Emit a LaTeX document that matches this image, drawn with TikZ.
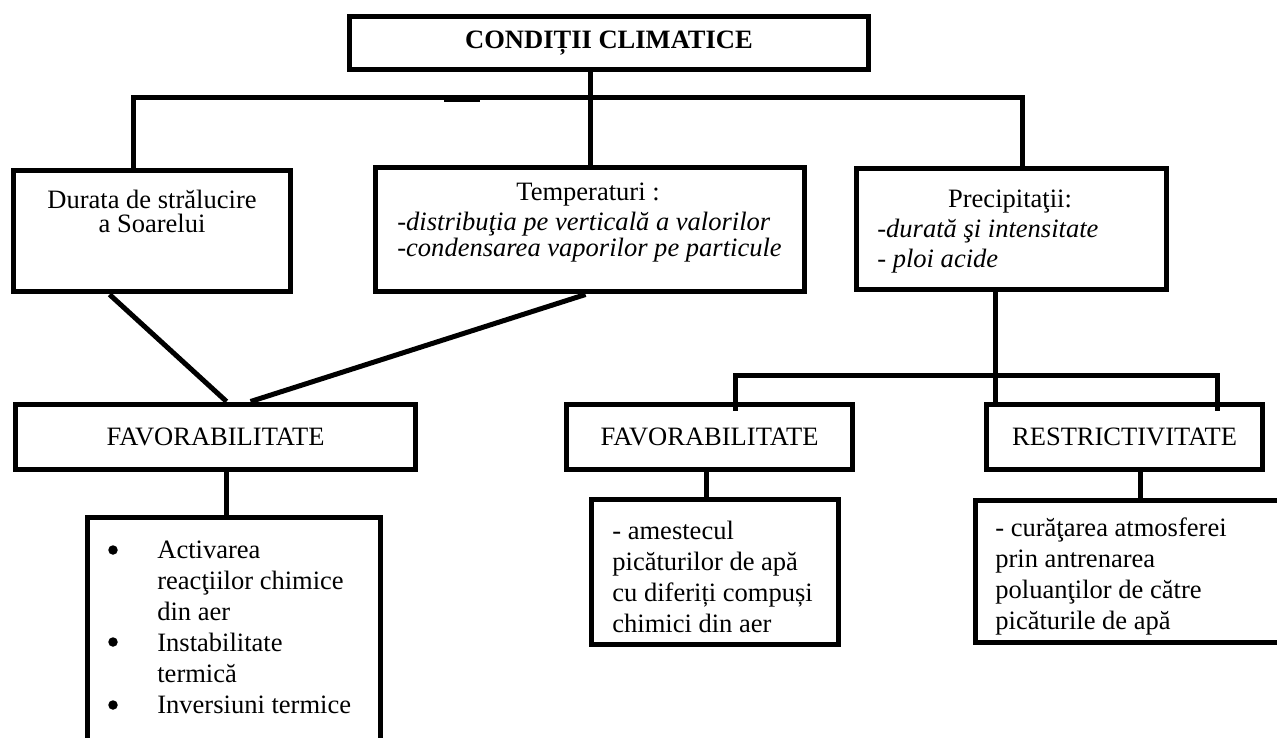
\documentclass[tikz,border=0pt]{standalone}
\usepackage{fontspec}
\setmainfont{Liberation Serif}
\usetikzlibrary{calc}

\begin{document}
\begin{tikzpicture}[x=0.02cm, y=-0.02cm,
  box/.style={draw, line width=0.1cm, inner sep=0pt, font=\fontsize{15.1}{18}\selectfont},
  txt/.style={inner sep=0pt, font=\fontsize{15.1}{18}\selectfont},
  dot/.style={circle, fill, inner sep=0pt, minimum size=0.19cm},
  link/.style={line width=0.1cm}]
% Page
\useasboundingbox (0,0) rectangle (1277,737);
\fill[white] (0,0) rectangle (1277,737);
\clip (0,0) rectangle (1277,737);

% Top box
\node[box, minimum width=10.4cm, minimum height=1.08cm,
  font=\fontsize{15.1}{18}\selectfont\bfseries] (title) at (609,43) {CONDIȚII CLIMATICE};

% Climate factors
\node[box, minimum width=5.56cm, minimum height=2.44cm] (sun) at (152,231) {};
\node[box, minimum width=8.6cm, minimum height=2.5cm] (temp) at (590,229.5) {};
\node[box, minimum width=6.22cm, minimum height=2.44cm] (rain) at (1011.5,229) {};

\node[txt, align=center, font=\fontsize{15.1}{0.48cm}\selectfont] (sunTxt) at (152,211)
  {Durata de strălucire\\a Soarelui};
\node[txt] (tempHead) at (588,195) {Temperaturi :};
\node[txt, anchor=west, align=left, font=\fontsize{15.1}{0.52cm}\selectfont\itshape] (tempTxt) at (397,237)
  {-distribuţia pe verticală a valorilor\\-condensarea vaporilor pe particule};
\node[txt] (rainHead) at (1010,202) {Precipitaţii:};
\node[txt, anchor=west, align=left, font=\fontsize{15.1}{0.6cm}\selectfont\itshape] (rainTxt) at (877,246)
  {-durată şi intensitate\\- ploi acide};

% Effects
\node[box, minimum width=8.02cm, minimum height=1.3cm] (favA) at (215.5,436.5) {FAVORABILITATE};
\node[box, minimum width=5.74cm, minimum height=1.3cm] (favB) at (709.5,436.5) {FAVORABILITATE};
\node[box, minimum width=5.54cm, minimum height=1.3cm] (restr) at (1124.5,436.5) {RESTRICTIVITATE};

\node[box, minimum width=5.88cm, minimum height=4.86cm] (effA) at (234,638.5) {};
\node[box, minimum width=4.96cm, minimum height=2.92cm] (effB) at (715,572) {};
\node[box, minimum width=6.3cm, minimum height=2.86cm] (effC) at (1132.5,571.5) {};

\node[txt, anchor=west, align=left, font=\fontsize{15.1}{0.62cm}\selectfont] (effATxt) at (157,627.5)
  {Activarea\\reacţiilor chimice\\din aer\\Instabilitate\\termică\\Inversiuni termice};
\foreach \y [count=\i] in {550,642,705}
  \node[dot] (dot\i) at (113,\y) {};
\node[txt, anchor=west, align=left, font=\fontsize{15.1}{0.62cm}\selectfont] (effBTxt) at (612,577)
  {- amestecul\\picăturilor de apă\\cu diferiți compuși\\chimici din aer};
\node[txt, anchor=west, align=left, font=\fontsize{15.1}{0.615cm}\selectfont] (effCTxt) at (995,576.5)
  {- curăţarea atmosferei\\prin antrenarea\\poluanţilor de către\\picăturile de apă};

% Branches from the top
\coordinate (busL) at (133,97);
\coordinate (busR) at (1022,97);
\draw[link] (busL |- sun.north) -- (busL) -- (busR) -- (busR |- rain.north);
\draw[link] (title.south -| temp.north) -- (temp.north);
\draw[link] (444,99.5) -- (480,99.5);

% Towards the favourable effects
\draw[link] ($(sun.south west)+(99,0)$) -- ($(favA.north west)+(214,0)$);
\draw[link] ($(temp.south west)+(213,0)$) -- ($(favA.north west)+(238,0)$);
\draw[link] ($(favA.south west)+(214,0)$) coordinate (stemA) -- (stemA |- effA.north);

% Precipitation split
\coordinate (brL) at (735,375);
\coordinate (brR) at (1217,375);
\draw[link] ($(rain.south west)+(142,0)$) coordinate (stemR) -- (stemR |- restr.north);
\draw[link, shorten <=-0.18cm, shorten >=-0.18cm] (brL |- favB.north) -- (brL) -- (brR) -- (brR |- restr.north);
\draw[link] ($(favB.south west)+(143,0)$) coordinate (stemB) -- (stemB |- effB.north);
\draw[link] ($(restr.south west)+(157,0)$) coordinate (stemC) -- (stemC |- effC.north);

\end{tikzpicture}
\end{document}
